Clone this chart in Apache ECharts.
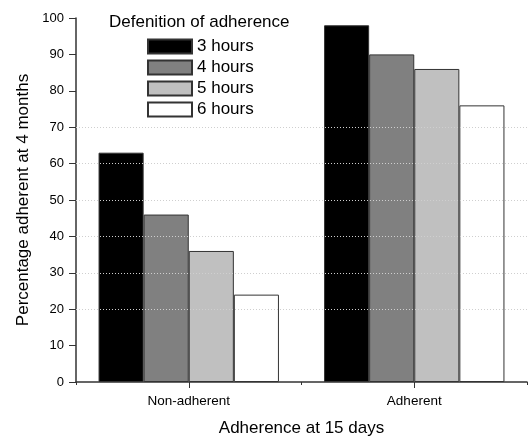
<!DOCTYPE html>
<html>
<head>
<meta charset="utf-8">
<script src="https://cdn.jsdelivr.net/npm/echarts@6/dist/echarts.min.js"></script>
<style>
  html, body { margin: 0; padding: 0; background: #fff; }
  #chart { width: 531px; height: 438px; }
</style>
</head>
<body>
<div id="chart"></div>
<script>
// data
var categories = ['Non-adherent', 'Adherent'];
var seriesNames = ['3 hours', '4 hours', '5 hours', '6 hours'];
var hours3 = [63, 98];
var hours4 = [46, 90];
var hours5 = [36, 86];
var hours6 = [24, 76];
var gridValues = [20, 30, 40, 50, 60, 70];

var fills = ['#000000', '#808080', '#c0c0c0', '#ffffff'];
var values = [hours3, hours4, hours5, hours6];
var font = 'Liberation Sans, Arial, sans-serif';

var chart = echarts.init(document.getElementById('chart'));

var series = values.map(function (v, i) {
    return {
        name: seriesNames[i],
        type: 'bar',
        data: v,
        barGap: 0,
        barCategoryGap: '20%',
        z: 3,
        itemStyle: { color: fills[i], borderColor: '#333', borderWidth: 1 }
    };
});

// dotted guide lines (only 20..70 are drawn in the figure)
series.push({
    type: 'line',
    data: [null, null],
    silent: true,
    z: 1,
    symbol: 'none',
    markLine: {
        silent: true,
        symbol: 'none',
        label: { show: false },
        lineStyle: { color: '#cfcfcf', type: [1, 2], width: 1 },
        data: gridValues.map(function (g) { return { yAxis: g }; })
    }
});

chart.setOption({
    animation: false,
    textStyle: { fontFamily: font },
    title: {
        text: 'Defenition of adherence',
        left: 104,
        top: 14,
        padding: [0, 5],
        textStyle: { fontSize: 17, fontWeight: 'normal', color: '#000', fontFamily: font }
    },
    legend: {
        orient: 'vertical',
        left: 147,
        top: 38,
        padding: 0,
        itemWidth: 44,
        itemHeight: 14,
        itemGap: 4,
        icon: 'rect',
        data: seriesNames,
        textStyle: { fontSize: 17, color: '#000', fontFamily: font }
    },
    grid: { left: 76, right: 4, top: 18, bottom: 56, containLabel: false, outerBoundsMode: 'none' },
    xAxis: [{
        type: 'category',
        data: categories,
        name: 'Adherence at 15 days',
        nameLocation: 'middle',
        nameGap: 38,
        nameTextStyle: { fontSize: 17, color: '#000', fontFamily: font },
        axisLine: { lineStyle: { color: '#333', width: 1.5 } },
        axisTick: { show: true, length: 3, lineStyle: { color: '#333' } },
        axisLabel: { fontSize: 13.5, color: '#000', margin: 12, fontFamily: font },
        splitLine: { show: false }
    }, {
        // longer ticks under each category centre
        type: 'category',
        data: categories,
        position: 'bottom',
        axisLine: { show: false },
        axisTick: { show: true, alignWithLabel: true, length: 6, lineStyle: { color: '#333' } },
        axisLabel: { show: false },
        splitLine: { show: false }
    }],
    yAxis: {
        type: 'value',
        min: 0,
        max: 100,
        interval: 10,
        name: 'Percentage adherent at 4 months',
        nameLocation: 'middle',
        nameGap: 44,
        nameTextStyle: { fontSize: 17, color: '#000', fontFamily: font },
        axisLine: { show: true, lineStyle: { color: '#333', width: 1.5 } },
        axisTick: { show: true, length: 7, lineStyle: { color: '#333' } },
        axisLabel: { fontSize: 13, color: '#000', margin: 12, fontFamily: font },
        splitLine: { show: false }
    },
    series: series
});
</script>
</body>
</html>
